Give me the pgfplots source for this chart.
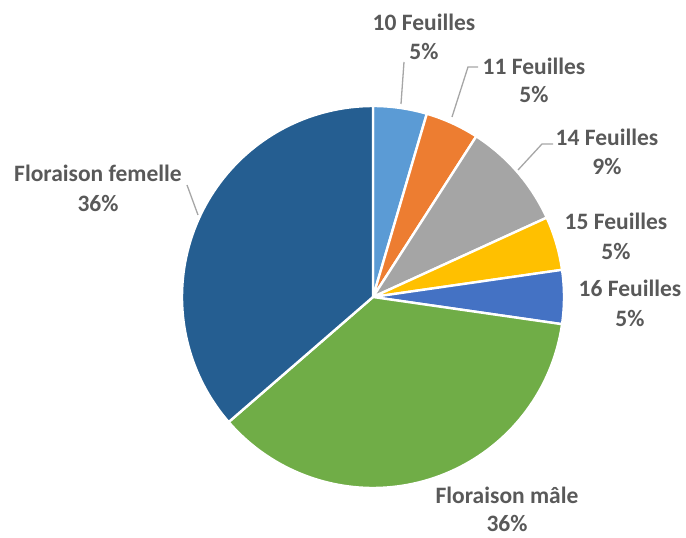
\documentclass[border=0pt]{standalone}
\usepackage{pgfplots}
\pgfplotsset{compat=1.18}
\usepackage{fontspec}
\setmainfont{Carlito}
\definecolor{cA}{HTML}{5B9BD5}
\definecolor{cB}{HTML}{ED7D31}
\definecolor{cC}{HTML}{A5A5A5}
\definecolor{cD}{HTML}{FFC000}
\definecolor{cE}{HTML}{4472C4}
\definecolor{cF}{HTML}{70AD47}
\definecolor{cG}{HTML}{255E91}
\definecolor{lbl}{HTML}{595959}
\definecolor{lead}{HTML}{A6A6A6}
% counts: 10F=1, 11F=1, 14F=2, 15F=1, 16F=1, male=8, femelle=8 (total 22)
% cumulative angles (clockwise from 90 deg): 90, 73.636, 57.273, 24.545, 8.182, -8.182, -139.091, -270
\begin{document}
\begin{tikzpicture}
\begin{axis}[
  x=1pt, y=1pt,
  xmin=0, xmax=686, ymin=0, ymax=538,
  hide axis, clip=false,
  every axis plot/.append style={draw=white, line width=2.4pt, line join=round}
]
\path (axis cs:0,0) (axis cs:686,538);
\addplot[fill=cA, domain=73.636:90, samples=20, variable=\t] ({373+191*cos(t)},{241+191*sin(t)}) -- (axis cs:373,241) -- cycle;
\addplot[fill=cB, domain=57.273:73.636, samples=20, variable=\t] ({373+191*cos(t)},{241+191*sin(t)}) -- (axis cs:373,241) -- cycle;
\addplot[fill=cC, domain=24.545:57.273, samples=30, variable=\t] ({373+191*cos(t)},{241+191*sin(t)}) -- (axis cs:373,241) -- cycle;
\addplot[fill=cD, domain=8.182:24.545, samples=20, variable=\t] ({373+191*cos(t)},{241+191*sin(t)}) -- (axis cs:373,241) -- cycle;
\addplot[fill=cE, domain=-8.182:8.182, samples=20, variable=\t] ({373+191*cos(t)},{241+191*sin(t)}) -- (axis cs:373,241) -- cycle;
\addplot[fill=cF, domain=-139.091:-8.182, samples=80, variable=\t] ({373+191*cos(t)},{241+191*sin(t)}) -- (axis cs:373,241) -- cycle;
\addplot[fill=cG, domain=-270:-139.091, samples=80, variable=\t] ({373+191*cos(t)},{241+191*sin(t)}) -- (axis cs:373,241) -- cycle;

% leader lines
\draw[lead, line width=1.3pt] (axis cs:404,476) -- (axis cs:401,434);
\draw[lead, line width=1.3pt] (axis cs:478,471) -- (axis cs:468,471) -- (axis cs:452,421);
\draw[lead, line width=1.3pt] (axis cs:553,394) -- (axis cs:542,394) -- (axis cs:518,368);
\draw[lead, line width=1.3pt] (axis cs:187,353) -- (axis cs:198,323);

\tikzset{L/.style={anchor=base, inner sep=0pt, text=lbl, font=\fontsize{23.5}{28}\selectfont\bfseries}}
\node[L] at (axis cs:424,507) {10 Feuilles};
\node[L] at (axis cs:424,478) {5\%};
\node[L] at (axis cs:534,463) {11 Feuilles};
\node[L] at (axis cs:534,435) {5\%};
\node[L] at (axis cs:607,392) {14 Feuilles};
\node[L] at (axis cs:607,363) {9\%};
\node[L] at (axis cs:616,308) {15 Feuilles};
\node[L] at (axis cs:616,278) {5\%};
\node[L] at (axis cs:630,241) {16 Feuilles};
\node[L] at (axis cs:630,211) {5\%};
\node[L] at (axis cs:507,34) {Floraison mâle};
\node[L] at (axis cs:507,6) {36\%};
\node[L] at (axis cs:98,356) {Floraison femelle};
\node[L] at (axis cs:98,326) {36\%};
\end{axis}
\end{tikzpicture}
\end{document}
